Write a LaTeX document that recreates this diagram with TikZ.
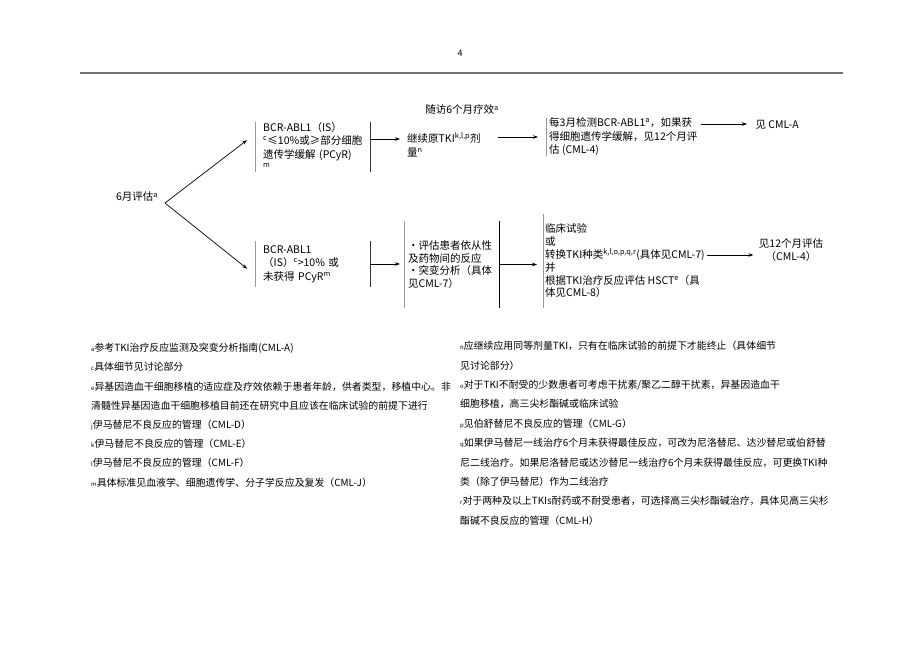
\documentclass[tikz,border=0pt]{standalone}
\usepackage{fontspec}
\setmainfont{Noto Sans CJK SC}
\usetikzlibrary{arrows.meta}
\newcommand{\fnmark}[1]{{\fontsize{6}{6}\selectfont #1}}

\begin{document}
\begin{tikzpicture}[x=1pt,y=-1pt,
	arr/.style={-{Stealth[length=5pt,width=3.5pt]},line width=0.7pt},
	flow/.style={font=\fontsize{10.5}{13.5}\selectfont,align=left,inner ysep=0pt},
	note/.style={font=\fontsize{9.9}{19.2}\selectfont,align=left,anchor=north west,inner sep=0pt},
	lbar/.style={draw=black!40,line width=0.8pt},
	rbar/.style={draw=black!80,line width=1pt}]
	\useasboundingbox (0,0) rectangle (920,651);
	
	%header
	\node[font=\fontsize{9}{9}\selectfont] (page) at (460,53) {4};
	\draw[black!55,line width=1.8pt] (80,73) -- (843,73);
	
	%start
	\node[flow] (follow) at (462,110) {随访6个月疗效\textsuperscript{a}};
	\node[flow,inner xsep=0pt] (month6) at (137,197) {6月评估\textsuperscript{a}};
	\coordinate (split) at (165,203);
	
	%upper branch
	\node[flow,anchor=west,text width=99pt,inner xsep=8pt,minimum height=50pt] (hiRes) at (255,147)
	{BCR-ABL1（IS）\\\textsuperscript{c}≤10\%或≥部分细胞\\遗传学缓解 (PCyR)\\\textsuperscript{m}};
	\node[flow,anchor=west,text width=88pt,inner xsep=3pt] (keep) at (404,145)
	{继续原TKI\textsuperscript{k,l,p}剂\\量\textsuperscript{n}};
	\node[flow,anchor=west,inner xsep=3pt,minimum height=35pt] (monitor) at (546,137)
	{每3月检测BCR-ABL1\textsuperscript{a}，如果获\\得细胞遗传学缓解，见12个月评\\估 (CML-4)};
	\node[flow,anchor=west] (seeA) at (752,125) {见 CML-A};
	
	%lower branch
	\node[flow,anchor=west,text width=99pt,inner xsep=8pt,minimum height=46pt] (loRes) at (255,264)
	{BCR-ABL1\\（IS）\textsuperscript{c}>10\% 或\\未获得 PCyR\textsuperscript{m}};
	\node[flow,anchor=west,text width=87pt,inner xsep=4pt,minimum height=87pt,
		font=\fontsize{10.5}{12.8}\selectfont] (assess) at (404,264.5)
	{•评估患者依从性\\及药物间的反应\\•突变分析（具体\\见CML-7）};
	\node[flow,anchor=west,inner xsep=2pt,minimum height=94pt,
		font=\fontsize{10.5}{12.8}\selectfont] (options) at (543,261)
	{临床试验\\或\\转换TKI种类\textsuperscript{k,l,o,p,q,r}(具体见CML-7)\\并\\根据TKI治疗反应评估 HSCT\textsuperscript{e}（具\\体见CML-8）};
	\node[flow,align=center] (see12) at (791,250) {见12个月评估\\（CML-4）};
	
	%bars
	\draw[lbar] (hiRes.north west) -- (hiRes.south west);
	\draw[rbar] (hiRes.north east) -- (hiRes.south east);
	\draw[lbar] (monitor.north west) -- (monitor.south west);
	\draw[lbar] (loRes.north west) -- (loRes.south west);
	\draw[rbar] (loRes.north east) -- (loRes.south east);
	\draw[lbar] (assess.north west) -- (assess.south west);
	\draw[rbar,line width=1.2pt,draw=black] (assess.north east) -- (assess.south east);
	\draw[lbar] (options.north west) -- (options.south west);
	
	%arrows
	\draw[arr,shorten >=10pt] (split) -- ([yshift=13pt]hiRes.west);
	\draw[arr,shorten >=10pt] (split) -- ([yshift=-11pt]loRes.west);
	\draw[arr,shorten >=4pt] ([yshift=8pt]hiRes.east) -- ([yshift=8pt]hiRes.east -| keep.west);
	\draw[arr,shorten >=8pt] (keep.east |- monitor.west) -- (monitor.west);
	\draw[arr,shorten >=5pt] ([yshift=13pt]monitor.east) -- ([yshift=13pt]monitor.east -| seeA.west);
	\draw[arr,shorten >=4pt] (loRes.east) -- (loRes.east -| assess.west);
	\draw[arr,shorten >=6pt] (assess.east) -- (assess.east -| options.west);
	\draw[arr,shorten >=2pt] ([yshift=6pt]options.east) -- ([yshift=6pt]options.east -| see12.west);
	
	%notes
	\node[note] (notesL) at (91,343) {\fnmark{a}参考TKI治疗反应监测及突变分析指南(CML-A)\\
		\fnmark{c}具体细节见讨论部分\\
		\fnmark{e}异基因造血干细胞移植的适应症及疗效依赖于患者年龄，供者类型，移植中心。非\\
		清髓性异基因造血干细胞移植目前还在研究中且应该在临床试验的前提下进行\\
		\fnmark{j}伊马替尼不良反应的管理（CML-D）\\
		\fnmark{k}伊马替尼不良反应的管理（CML-E）\\
		\fnmark{l}伊马替尼不良反应的管理（CML-F）\\
		\fnmark{m}具体标准见血液学、细胞遗传学、分子学反应及复发（CML-J）};
	\node[note,font=\fontsize{9.9}{19.4}\selectfont] (notesR) at (460,341) {\fnmark{n}应继续应用同等剂量TKI，只有在临床试验的前提下才能终止（具体细节\\
		见讨论部分）\\
		\fnmark{o}对于TKI不耐受的少数患者可考虑干扰素/聚乙二醇干扰素，异基因造血干\\
		细胞移植，高三尖杉酯碱或临床试验\\
		\fnmark{p}见伯舒替尼不良反应的管理（CML-G）\\
		\fnmark{q}如果伊马替尼一线治疗6个月未获得最佳反应，可改为尼洛替尼、达沙替尼或伯舒替\\
		尼二线治疗。如果尼洛替尼或达沙替尼一线治疗6个月未获得最佳反应，可更换TKI种\\
		类（除了伊马替尼）作为二线治疗\\
		\fnmark{r}对于两种及以上TKIs耐药或不耐受患者，可选择高三尖杉酯碱治疗，具体见高三尖杉\\
		酯碱不良反应的管理（CML-H）};
\end{tikzpicture}
\end{document}
